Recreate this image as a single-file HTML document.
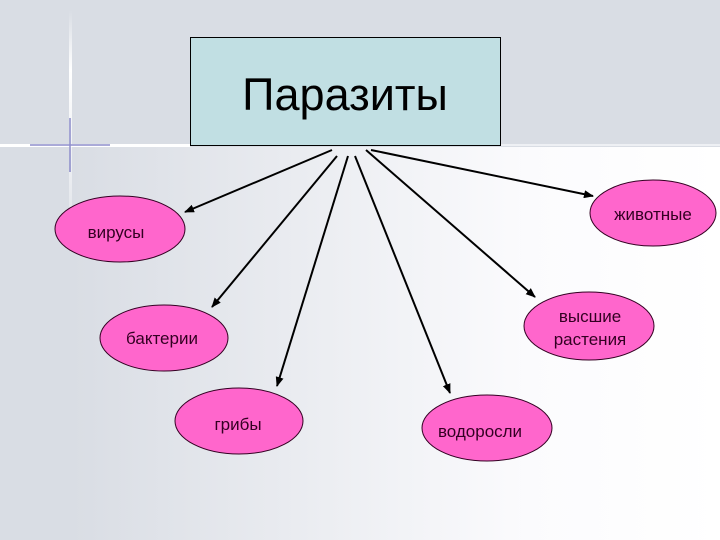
<!DOCTYPE html>
<html><head><meta charset="utf-8"><style>
html,body{margin:0;padding:0;width:720px;height:540px;overflow:hidden}
body{background:#d9dde4;position:relative;font-family:"Liberation Sans",sans-serif}
</style></head><body>
<svg width="720" height="540" viewBox="0 0 720 540" style="position:absolute;left:0;top:0">
<defs>
<linearGradient id="g" x1="0" x2="1" y1="0" y2="0">
<stop offset="0" stop-color="#d9dde4"/><stop offset="0.7" stop-color="#fbfbfd"/><stop offset="1" stop-color="#ffffff"/>
</linearGradient>
<linearGradient id="v" x1="0" x2="0" y1="0" y2="1">
<stop offset="0" stop-color="#fff" stop-opacity="0"/><stop offset="0.3" stop-color="#fff" stop-opacity="1"/><stop offset="1" stop-color="#fff" stop-opacity="0.3"/>
</linearGradient>
<marker id="a" markerWidth="10" markerHeight="8" refX="9" refY="4" orient="auto" markerUnits="userSpaceOnUse">
<path d="M0,0 L10,4 L0,8 z" fill="#000"/></marker>
</defs>
<rect x="0" y="0" width="720" height="540" fill="#d9dde4"/>
<rect x="72" y="147" width="648" height="393" fill="url(#g)"/>
<rect x="69" y="10" width="3" height="200" fill="url(#v)"/>
<rect x="0" y="144" width="190" height="3" fill="#fff"/>
<rect x="501" y="144" width="219" height="2" fill="#eef0f4"/>
<path d="M30,145 L110,145 M70,118 L70,172" stroke="#4444aa" stroke-width="1.5" opacity="0.6"/>
<rect x="190.5" y="37.5" width="310" height="108" fill="#c1dfe3" stroke="#000" stroke-width="1"/>
<text x="345" y="110" font-size="45" text-anchor="middle" fill="#000">Паразиты</text>
<g stroke="#000" stroke-width="2" marker-end="url(#a)">
<line x1="332" y1="150" x2="185" y2="212"/>
<line x1="337" y1="156" x2="212" y2="307"/>
<line x1="348" y1="156" x2="277" y2="386"/>
<line x1="355" y1="156" x2="450" y2="393"/>
<line x1="366" y1="150" x2="535" y2="297"/>
<line x1="371" y1="150" x2="593" y2="196"/>
</g>
<g fill="#ff66cc" stroke="#330022" stroke-width="1">
<ellipse cx="120" cy="229" rx="65" ry="33"/>
<ellipse cx="164" cy="338" rx="64" ry="33"/>
<ellipse cx="239" cy="421" rx="64" ry="33"/>
<ellipse cx="487" cy="428" rx="65" ry="33"/>
<ellipse cx="589" cy="326" rx="65" ry="34"/>
<ellipse cx="653" cy="213" rx="63" ry="33"/>
</g>
<g font-size="17" fill="#330022" text-anchor="middle">
<text x="116" y="238">вирусы</text>
<text x="162" y="344">бактерии</text>
<text x="238" y="430">грибы</text>
<text x="480" y="437">водоросли</text>
<text x="590" y="322">высшие</text>
<text x="590" y="345">растения</text>
<text x="653" y="220">животные</text>
</g>
</svg>
</body></html>
